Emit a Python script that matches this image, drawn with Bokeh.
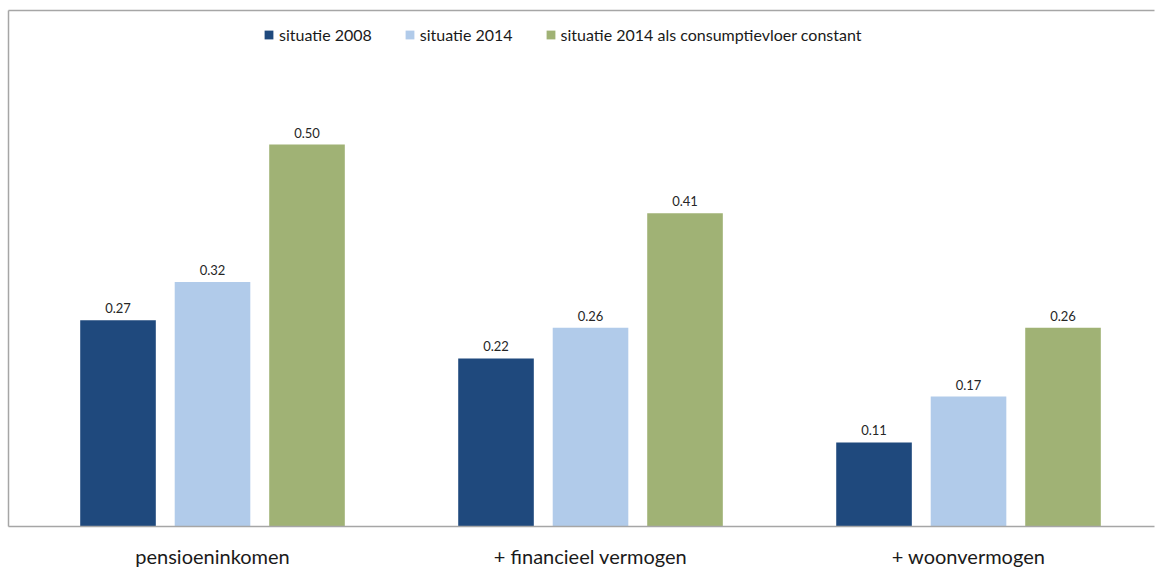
from bokeh.plotting import figure
from bokeh.models import (ColumnDataSource, Range1d, FixedTicker, LinearAxis,
                          Legend, LegendItem)
from bokeh.core.properties import value
from bokeh.embed import file_html
from bokeh.resources import INLINE

categories = ["pensioeninkomen", "+ financieel vermogen", "+ woonvermogen"]
series_names = ["situatie 2008", "situatie 2014",
                "situatie 2014 als consumptievloer constant"]
situatie_2008 = [0.27, 0.22, 0.11]
situatie_2014 = [0.32, 0.26, 0.17]
situatie_2014_constant = [0.50, 0.41, 0.26]
series_values = [situatie_2008, situatie_2014, situatie_2014_constant]
colors = ["#1F497D", "#B1CBEA", "#A0B275"]
offsets = [-0.25, 0.0, 0.25]
bar_width = 0.2

FONT = "Lato"
centers = [i + 0.5 for i in range(len(categories))]

p = figure(width=1160, height=572, output_backend="svg", toolbar_location=None,
           x_range=Range1d(-0.0397, 2.9920), y_range=Range1d(0, 0.6754),
           min_border_left=8, min_border_top=10, min_border_right=6,
           min_border_bottom=46, x_axis_type=None, y_axis_type=None)
p.grid.visible = False
p.outline_line_color = None
p.background_fill_color = "white"
p.border_fill_color = "white"

# bottom category axis
xaxis = LinearAxis(ticker=FixedTicker(ticks=centers),
                   major_label_overrides={c: n for c, n in zip(centers, categories)})
xaxis.axis_line_color = "#a6a6a6"
xaxis.axis_line_width = 1.5
xaxis.major_tick_line_color = None
xaxis.minor_tick_line_color = None
xaxis.major_label_standoff = 11
xaxis.major_label_text_font = FONT
xaxis.major_label_text_font_size = "20px"
xaxis.major_label_text_color = "#1a1a1a"
p.add_layout(xaxis, "below")

# chart border (top and left)
for side in ("above", "left"):
    ax = LinearAxis(ticker=FixedTicker(ticks=[]))
    ax.axis_line_color = "#a6a6a6"
    ax.axis_line_width = 1.5
    ax.major_tick_line_color = None
    ax.minor_tick_line_color = None
    ax.major_label_standoff = 0
    ax.major_label_text_font_size = "0px"
    p.add_layout(ax, side)

renderers = []
for vals, col, off, name in zip(series_values, colors, offsets, series_names):
    src = ColumnDataSource(dict(x=[c + off for c in centers], top=vals,
                                label=[f"{v:.2f}" for v in vals]))
    r = p.vbar(x="x", top="top", width=bar_width, source=src,
               fill_color=col, line_color=None)
    renderers.append((name, r))
    p.text(x="x", y="top", text="label", source=src, y_offset=-7,
           text_align="center", text_baseline="bottom",
           text_font=value(FONT), text_font_size="13px", text_color="#262626")

legend = Legend(items=[LegendItem(label=n, renderers=[r]) for n, r in renderers],
                orientation="horizontal", location=(255, 482))
legend.border_line_color = None
legend.background_fill_alpha = 0
legend.padding = 0
legend.margin = 0
legend.spacing = 32
legend.glyph_width = 11
legend.glyph_height = 11
legend.label_standoff = 5
legend.label_height = 20
legend.label_text_font = FONT
legend.label_text_font_size = "16px"
legend.label_text_color = "#1a1a1a"
p.add_layout(legend, "center")

open("out.html", "w").write(file_html(p, INLINE))
